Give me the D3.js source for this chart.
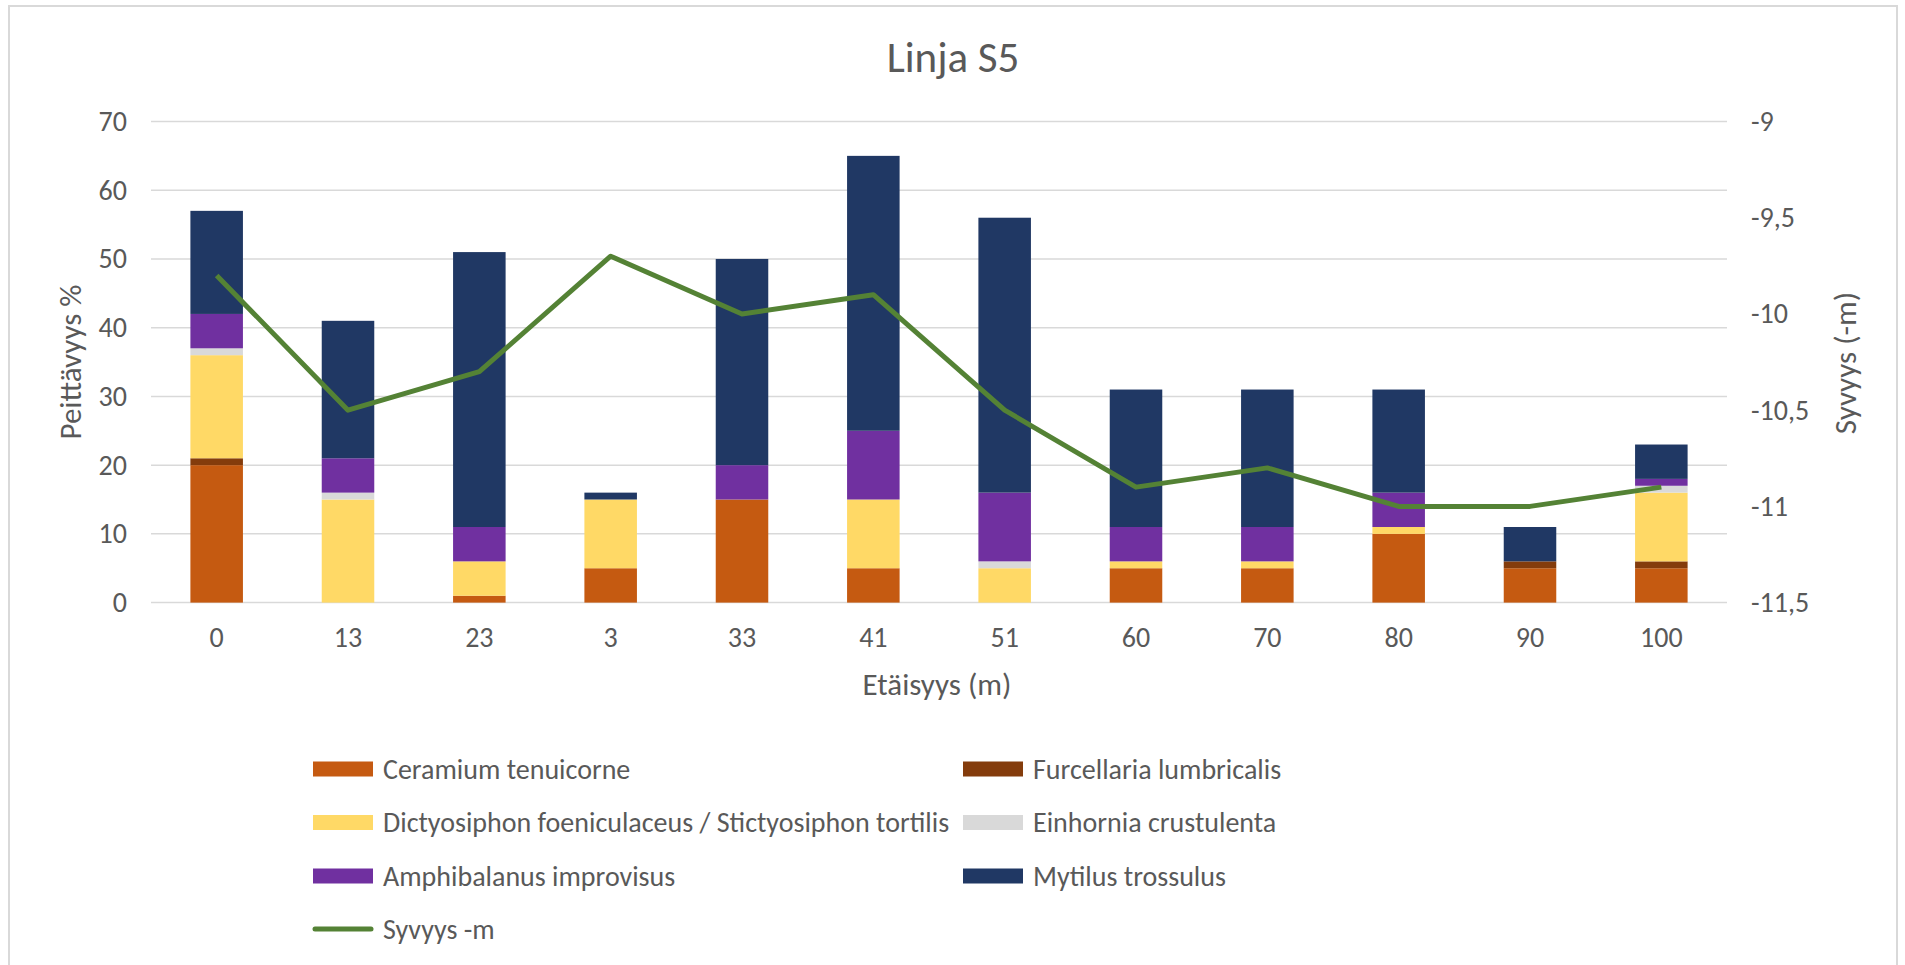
<!DOCTYPE html>
<html>
<head>
  <meta charset="utf-8">
  <title>Linja S5</title>
  <script src="https://d3js.org/d3.v7.min.js"></script>
  <style>
    body { margin: 0; background: #fff; }
    text { font-family: Carlito, "Liberation Sans", Arial, sans-serif; fill: #595959; }
  </style>
</head>
<body>
<script>
    // Categories (distance labels, in the order shown)
    var distances = ["0", "13", "23", "3", "33", "41", "51", "60", "70", "80", "90", "100"]

    // Coverage % per species
    var ceramium    = [20, 0, 1, 5, 15, 5, 0, 5, 5, 10, 5, 5]
    var furcellaria = [1, 0, 0, 0, 0, 0, 0, 0, 0, 0, 1, 1]
    var dictyosiphon = [15, 15, 5, 10, 0, 10, 5, 1, 1, 1, 0, 10]
    var einhornia   = [1, 1, 0, 0, 0, 0, 1, 0, 0, 0, 0, 1]
    var amphibalanus = [5, 5, 5, 0, 5, 10, 10, 5, 5, 5, 0, 1]
    var mytilus     = [15, 20, 40, 1, 30, 40, 40, 20, 20, 15, 5, 5]

    // Depth (m), right axis
    var depth = [-9.8, -10.5, -10.3, -9.7, -10.0, -9.9, -10.5, -10.9, -10.8, -11.0, -11.0, -10.9]

    var leftTicks = [0, 10, 20, 30, 40, 50, 60, 70]
    var rightTicks = [-11.5, -11, -10.5, -10, -9.5, -9]

    var seriesNames = ["Ceramium tenuicorne", "Furcellaria lumbricalis",
        "Dictyosiphon foeniculaceus / Stictyosiphon tortilis", "Einhornia crustulenta",
        "Amphibalanus improvisus", "Mytilus trossulus"]
    var seriesValues = [ceramium, furcellaria, dictyosiphon, einhornia, amphibalanus, mytilus]
    var colors = ["#C55A11", "#843C0C", "#FFD966", "#D9D9D9", "#7030A0", "#203864"]
    var lineName = "Syvyys -m"
    var lineColor = "#548235"

    var W = 1905, H = 965
    var plot = {left: 151, right: 1727, top: 121.5, bottom: 602.6}

    var svg = d3.select("body").append("svg")
        .attr("width", W).attr("height", H)

    // chart border
    svg.append("rect")
        .attr("x", 9).attr("y", 6).attr("width", 1888).attr("height", 980)
        .attr("fill", "none").attr("stroke", "#D9D9D9").attr("stroke-width", 2)

    var x = d3.scaleBand().domain(distances)
        .range([plot.left, plot.right])
        .paddingInner(0.6).paddingOuter(0.3)
    var y = d3.scaleLinear().domain([0, 70]).range([plot.bottom, plot.top])
    var y2 = d3.scaleLinear().domain([-11.5, -9]).range([plot.bottom, plot.top])

    // gridlines
    svg.append("g").selectAll("line").data(leftTicks).enter().append("line")
        .attr("x1", plot.left).attr("x2", plot.right)
        .attr("y1", function(d) { return y(d) }).attr("y2", function(d) { return y(d) })
        .attr("stroke", "#D9D9D9").attr("stroke-width", 1.5)

    // left axis
    var leftAxis = svg.append("g")
        .attr("transform", "translate(" + (plot.left - 24) + ",0)")
        .call(d3.axisLeft(y).tickValues(leftTicks).tickSize(0).tickPadding(0))
    leftAxis.select(".domain").remove()
    leftAxis.selectAll("text").style("font-size", "28px").attr("fill", "#595959")

    // right axis
    var fmt = function(d) { return String(d).replace(".", ",") }
    var rightAxis = svg.append("g")
        .attr("transform", "translate(" + (plot.right + 24) + ",0)")
        .call(d3.axisRight(y2).tickValues(rightTicks).tickSize(0).tickPadding(0).tickFormat(fmt))
    rightAxis.select(".domain").remove()
    rightAxis.selectAll("text").style("font-size", "28px").attr("fill", "#595959")

    // bottom axis
    var bottomAxis = svg.append("g")
        .attr("transform", "translate(0," + plot.bottom + ")")
        .call(d3.axisBottom(x).tickSize(0).tickPadding(25))
    bottomAxis.select(".domain").remove()
    bottomAxis.selectAll("text").style("font-size", "28px").attr("fill", "#595959")

    // stacked bars
    var table = distances.map(function(d, i) {
        var row = {dist: d}
        seriesNames.forEach(function(s, j) { row[s] = seriesValues[j][i] })
        return row
    })
    var stacked = d3.stack().keys(seriesNames)(table)

    svg.append("g").selectAll("g").data(stacked).enter().append("g")
        .attr("fill", function(d, i) { return colors[i] })
        .selectAll("rect").data(function(d) { return d }).enter().append("rect")
        .filter(function(d) { return d[1] - d[0] > 0 })
        .attr("x", function(d) { return x(d.data.dist) })
        .attr("width", x.bandwidth())
        .attr("y", function(d) { return y(d[1]) })
        .attr("height", function(d) { return y(d[0]) - y(d[1]) })

    // depth line
    var line = d3.line()
        .x(function(d, i) { return x(distances[i]) + x.bandwidth() / 2 })
        .y(function(d) { return y2(d) })
    svg.append("path").datum(depth)
        .attr("d", line)
        .attr("fill", "none").attr("stroke", lineColor).attr("stroke-width", 5)
        .attr("stroke-linejoin", "round")

    // titles
    svg.append("text").attr("x", 953).attr("y", 72).attr("text-anchor", "middle")
        .style("font-size", "43px").text("Linja S5")
    svg.append("text").attr("x", 937).attr("y", 695).attr("text-anchor", "middle")
        .style("font-size", "31px").text("Etäisyys (m)")
    svg.append("text").attr("transform", "translate(81,362) rotate(-90)")
        .attr("text-anchor", "middle").style("font-size", "31px").text("Peittävyys %")
    svg.append("text").attr("transform", "translate(1856,363) rotate(-90)")
        .attr("text-anchor", "middle").style("font-size", "31px").text("Syvyys (-m)")

    // legend
    var legendItems = seriesNames.map(function(s, i) {
        return {name: s, color: colors[i], type: "bar"}
    })
    legendItems.push({name: lineName, color: lineColor, type: "line"})
    var rowsY = [769, 822.5, 876, 929]
    var colsX = [313, 963]
    var lg = svg.append("g").selectAll("g").data(legendItems).enter().append("g")
        .attr("transform", function(d, i) {
            return "translate(" + colsX[i % 2] + "," + rowsY[Math.floor(i / 2)] + ")"
        })
    lg.filter(function(d) { return d.type === "bar" }).append("rect")
        .attr("x", 0).attr("y", -7.5).attr("width", 60).attr("height", 15)
        .attr("fill", function(d) { return d.color })
    lg.filter(function(d) { return d.type === "line" }).append("line")
        .attr("x1", 2).attr("x2", 58).attr("y1", 0).attr("y2", 0)
        .attr("stroke", function(d) { return d.color }).attr("stroke-width", 5)
        .attr("stroke-linecap", "round")
    lg.append("text").attr("x", 70).attr("y", 9.5)
        .style("font-size", "28px").text(function(d) { return d.name })
</script>
</body>
</html>
